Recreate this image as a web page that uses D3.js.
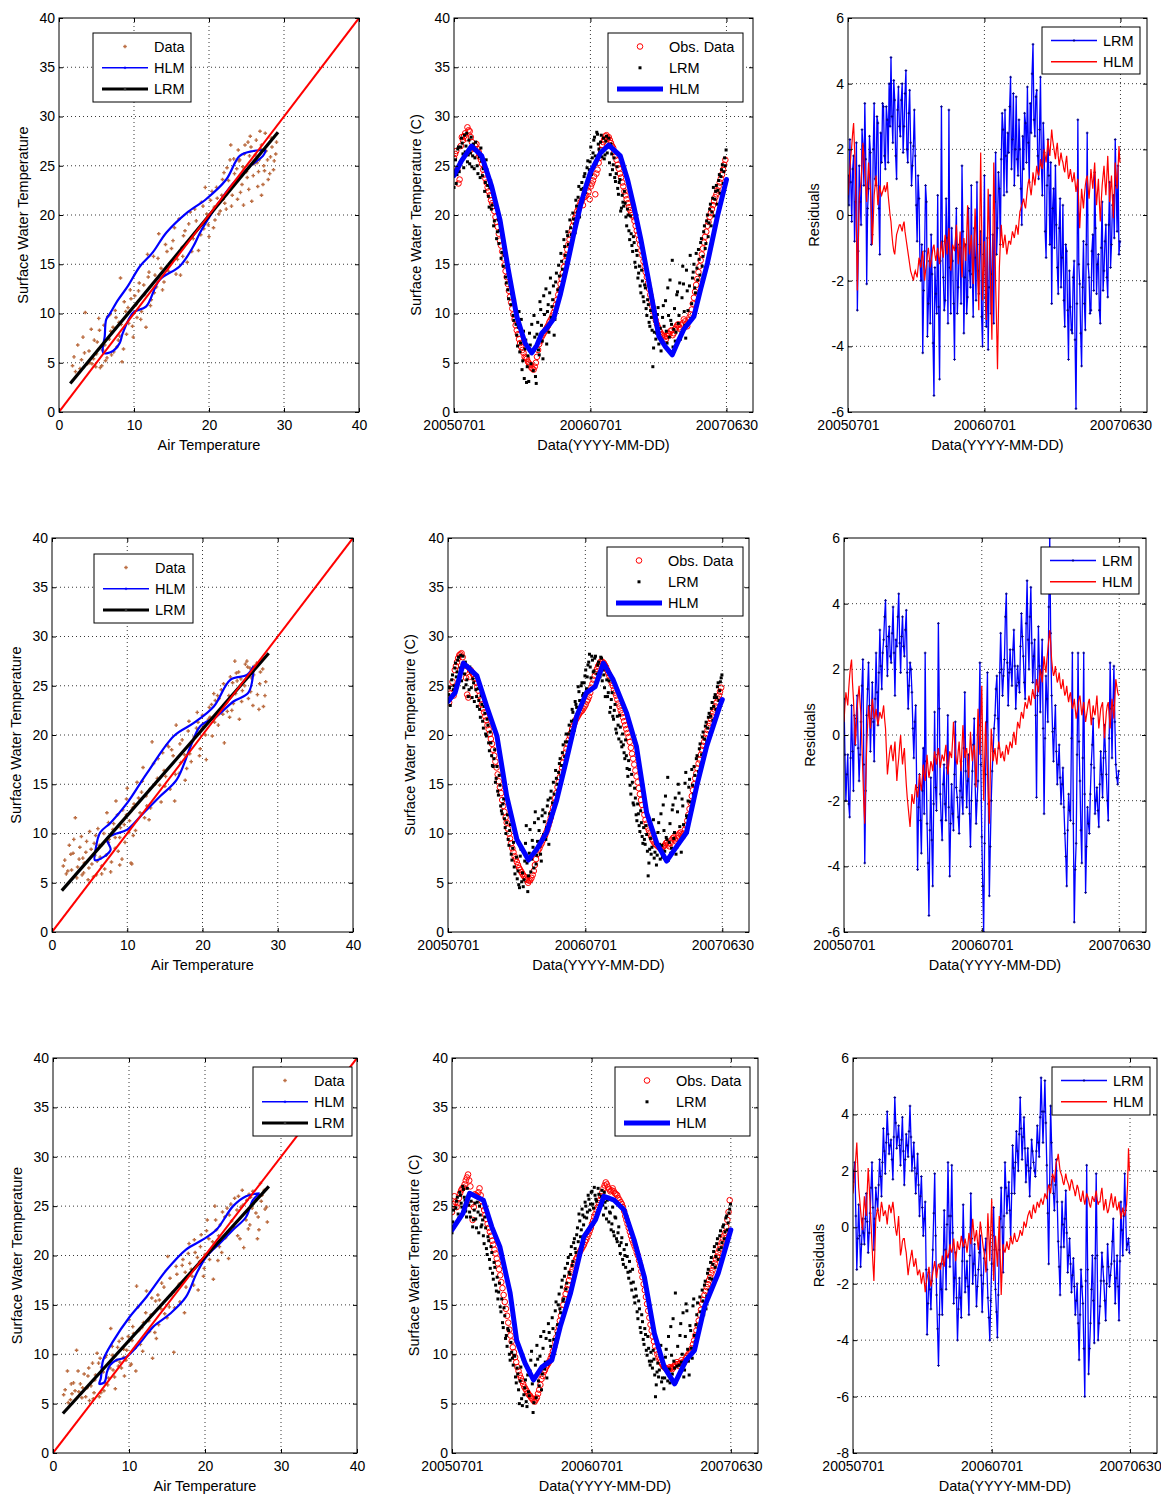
<!DOCTYPE html>
<html>
<head>
<meta charset="utf-8">
<script src="https://cdn.jsdelivr.net/npm/d3@7"></script>
<style>
  html, body { margin: 0; padding: 0; background: #fff; }
  svg text { font-family: "Liberation Sans", Arial, Helvetica, sans-serif; fill: #000; }
</style>
</head>
<body>
<svg id="chart" width="1161" height="1497"></svg>
<script>
// ---------------------------------------------------------------------------
// Data: three monitoring sites, records from 2005-07-01 to 2007-06-30.
// Time-series values are stored at a fixed sampling step (days since start);
// each "...Mid" array holds the samples taken half a step later.
// ---------------------------------------------------------------------------
const obsStepDays = 6;     // observed surface water temperature
const lrmStepDays = 4;     // linear regression model prediction
const residStepDays = 5;   // model residuals

const dateTickDays = [0, 365, 729];
const dateTickLabels = ["20050701", "20060701", "20070630"];
const tempTicks = [0, 5, 10, 15, 20, 25, 30, 35, 40];
const airTicks = [0, 10, 20, 30, 40];
const residTicksA = [-6, -4, -2, 0, 2, 4, 6];
const residTicksB = [-8, -6, -4, -2, 0, 2, 4, 6];
const identityLine = [[0, 0], [40, 40]];

// ---- Site 1 ---------------------------------------------------------------
// [air temperature, surface water temperature]
const site1Scatter = [[1.8,4.7],[2.2,4.1],[2.5,6.8],[3.0,5.3],[3.2,7.6],[3.5,10.1],[3.8,4.9],[4.0,6.2],[4.3,8.4],[4.6,5.4],[4.9,4.6],[5.1,7.1],[5.3,9.5],[5.5,4.5],[5.8,6.3],[6.0,8.8],[6.2,5.2],[6.5,9.7],[6.7,7.4],[7.0,5.8],[7.2,8.6],[7.5,10.3],[7.7,6.6],[8.0,9.1],[8.2,13.6],[8.4,5.1],[8.7,11.2],[9.0,7.9],[9.2,10.6],[9.5,12.4],[9.8,8.7],[10.1,11.8],[10.4,9.6],[10.7,13.1],[11.0,10.2],[11.3,12.9],[11.6,8.6],[12.0,14.2],[12.3,11.4],[12.6,15.8],[13.0,12.7],[13.3,18.1],[13.6,14.6],[14.0,13.2],[14.4,16.3],[14.8,15.1],[15.2,17.4],[15.6,14.0],[16.0,19.6],[16.4,16.7],[16.8,18.4],[17.1,15.2],[17.5,20.3],[17.9,17.6],[18.3,19.4],[18.6,16.4],[19.0,21.3],[19.3,18.6],[19.7,20.1],[20.0,17.8],[20.4,22.4],[20.8,19.5],[21.1,21.7],[21.5,20.4],[21.8,23.6],[22.1,21.2],[22.4,24.8],[22.7,22.5],[23.0,20.9],[23.3,25.7],[23.6,23.4],[23.9,26.6],[24.2,22.3],[24.5,24.9],[24.8,27.1],[25.1,23.8],[25.4,26.0],[25.7,21.4],[26.0,25.2],[26.3,27.6],[26.6,24.4],[26.9,26.7],[27.2,23.1],[27.5,28.3],[27.8,25.6],[28.1,24.2],[28.4,26.9],[28.7,25.5],[29.0,27.4],[27.0,22.0],[28.2,25.9],[25.5,28.0],[22.9,27.1],[24.0,25.5],[26.8,28.5],[19.5,22.8],[16.2,13.9],[11.8,16.0],[6.8,9.9],[4.4,4.9],
  [2.0,5.6],[2.8,4.4],[3.4,6.0],[4.1,5.0],[4.7,7.3],[5.0,5.9],[5.4,8.3],[5.7,4.7],[6.1,6.8],[6.4,5.5],[6.9,8.2],[7.3,6.1],[7.6,9.6],[7.9,7.3],[8.3,8.9],[8.6,6.4],[8.9,10.2],[9.3,9.0],[9.6,11.5],[9.9,7.6],[10.3,10.9],[10.6,12.3],[10.9,9.4],[11.4,11.9],[11.9,13.7],[12.2,10.8],[12.8,13.9],[13.2,15.6],[13.8,12.4],[14.2,17.0],[14.6,14.3],[15.0,16.6],[15.4,18.7],[15.8,15.5],[16.6,17.9],[17.3,19.1],[17.7,16.3],[18.1,20.6],[18.9,18.0],[19.2,20.9],[19.9,19.0],[20.2,21.5],[20.6,18.7],[21.0,22.8],[21.3,20.1],[21.7,22.0],[22.0,24.3],[22.3,20.6],[22.6,23.5],[22.8,25.6],[23.1,22.0],[23.4,24.2],[23.8,21.6],[24.1,25.6],[24.4,23.1],[24.7,26.2],[25.0,24.4],[25.3,22.6],[25.6,26.9],[25.9,24.0],[26.2,26.1],[26.5,22.9],[26.7,25.6],[27.0,27.1],[27.3,25.0],[27.6,26.5],[27.9,23.6],[28.3,27.8],[28.6,24.6],[28.9,26.2],[27.4,24.5],[26.4,25.3],[25.2,27.4],[24.6,21.0],[23.7,24.7],[21.9,21.6],[20.7,20.8],[16.5,15.8],[12.7,12.1],[8.1,7.7]];
const site1HlmLoop = [[27.6,26.6],[25.9,26.5],[24.1,26.0],[22.3,23.6],[19.6,21.6],[17.0,20.2],[14.3,18.2],[12.5,16.2],[10.8,14.8],[9.2,12.8],[7.9,11.4],[6.8,10.0],[6.3,9.4],[6.1,7.7],[5.9,6.0],[7.2,6.2],[8.1,7.0],[8.5,8.0],[9.9,10.1],[11.6,10.7],[13.4,13.4],[16.1,14.8],[17.9,16.8],[18.8,18.2],[21.0,20.9],[23.2,23.2],[25.4,24.9],[27.2,26.0],[27.6,26.6]];
const site1LrmFit = [[1.5,2.9],[29.2,28.4]];
const site1ObsWater = [25.8,26.5,23.2,27.0,27.6,28.3,28.9,28.5,27.4,26.2, 27.2,26.4,25.6,24.6,23.7,22.8,22.0,21.2,20.4,19.3, 18.1,16.9,15.6,14.3,13.0,11.7,10.5,9.4,8.3,7.4, 6.6,6.0,5.5,5.1,4.8,4.4,4.6,5.6,6.9,7.6, 8.0,8.4,8.8,9.3,9.8,10.5,11.4,12.4,13.5,14.7, 15.9,17.0,18.0,18.9,19.7,20.4,21.0,21.5,21.8,22.0, 22.4,22.9,23.5,22.1,24.6,25.8,27.1,27.7,28.1,27.9, 27.3,26.8,26.0,25.1,24.2,23.3,22.4,21.6,20.8,20.2, 19.8,18.9,18.0,17.0,15.9,14.8,13.7,12.5,11.3,10.2, 9.3,8.6,8.1,7.8,7.6,7.7,7.9,8.3,8.0,8.6, 8.9,8.4,9.0,9.2,8.7,9.6,10.4,11.6,12.9,14.2, 15.4,16.6,17.8,18.9,19.8,20.6,21.4,22.1,22.9,23.7, 24.6,25.6];
const site1ObsWaterMid = [26.2,24.6,23.6,27.9,28.0,27.8,28.6,27.9,26.8,27.0, 26.7,25.9,25.2,24.1,23.3,22.4,21.5,20.9,19.8,18.8, 17.4,16.3,14.9,13.7,12.3,11.1,9.9,8.8,7.9,7.0, 6.3,5.6,5.4,4.9,4.5,4.3,5.0,6.3,7.2,7.8, 8.2,8.6,9.1,9.5,10.1,10.9,11.9,13.0,14.1,15.3, 16.5,17.5,18.4,19.3,20.0,20.7,21.3,21.0,21.9,22.8, 21.6,23.2,23.9,24.2,25.3,26.6,27.4,28.0,27.8,27.6, 27.0,26.4,25.6,24.7,23.8,22.9,22.0,21.2,20.5,20.0, 19.4,18.4,17.5,16.4,15.3,14.2,13.1,11.9,10.7,9.7, 8.9,8.3,7.9,7.7,7.4,8.0,8.2,7.8,8.4,8.8, 8.6,8.8,9.4,8.9,9.3,9.9,11.0,12.2,13.5,14.8, 16.0,17.2,18.3,19.3,20.2,21.0,21.8,22.5,23.3,24.1, 25.1];
const site1LrmWater = [22.8,25.6,24.1,26.9,25.3,27.8,26.2,28.1,27.0,25.4, 27.6,26.3,24.9,27.2,25.8,26.6,24.2,25.9,26.8,24.0, 25.1,23.3,24.6,21.9,22.8,20.6,22.1,19.4,20.8,18.3, 17.1,18.9,16.2,14.8,16.5,13.1,12.4,14.2,10.9,11.6, 9.3,10.7,7.8,8.6,6.1,9.4,5.2,3.4,7.3,4.6, 3.1,6.8,8.9,4.2,7.6,2.9,9.1,5.8,10.4,7.2, 11.8,8.3,6.9,10.9,12.1,9.6,11.4,7.8,13.2,11.0, 14.9,12.6,15.3,13.9,16.8,15.2,17.9,16.1,18.7,17.4, 19.6,18.2,20.9,21.8,19.8,22.6,21.4,23.9,22.3,24.8, 23.6,25.4,24.1,26.3,27.9,25.2,28.2,26.7,27.4,25.9, 27.8,26.1,28.0,26.9,25.3,27.2,24.6,25.8,23.4,24.9, 22.1,23.6,20.7,21.3,22.4,19.8,20.6,18.4,19.9,16.9, 17.8,15.2,16.4,13.6,14.8,12.1,13.3,11.2,12.6,9.8, 10.9,8.7,9.6,4.6,8.1,7.4,9.9,6.9,8.5,7.1, 10.8,6.8,8.2,12.6,7.6,9.3,15.4,8.4,7.2,11.9, 9.0,13.1,8.0,14.8,10.2,7.5,12.3,9.1,15.9,11.0, 14.2,12.6,16.1,13.4,15.5,17.2,14.8,18.3,16.6,19.4, 17.8,20.6,18.9,21.7,19.9,22.4,21.1,23.5,22.2,24.6, 23.2,25.8,26.6];
const site1LrmWaterMid = [24.3,23.2,26.7,24.4,26.9,27.3,24.8,26.4,28.3,26.1, 25.2,27.9,26.0,24.7,27.4,25.0,26.3,23.8,25.5,24.7, 22.4,25.6,23.0,20.8,23.5,21.0,18.9,21.6,17.6,19.5, 18.4,15.6,17.4,15.9,13.7,15.1,11.5,12.9,12.0,9.8, 11.4,8.9,6.7,10.2,7.0,4.3,8.2,6.4,3.0,5.7, 8.0,4.9,6.1,9.8,3.6,7.9,6.3,11.2,8.8,5.4, 9.9,12.5,10.2,8.1,13.6,10.7,12.8,9.4,14.1,12.4, 13.8,16.1,14.5,17.5,15.9,18.3,17.0,19.5,18.0,20.2, 19.1,21.5,20.3,22.9,21.0,23.3,22.7,24.2,23.0,25.5, 24.6,26.9,25.8,27.6,26.0,28.4,27.2,26.4,28.1,26.6, 25.7,27.5,26.3,27.8,24.1,26.2,25.1,23.8,24.2,22.7, 23.3,20.4,22.0,20.9,21.2,18.9,20.0,17.5,18.1,16.3, 17.2,14.7,15.9,14.1,12.8,14.4,11.7,12.9,10.5,11.4, 9.1,10.3,8.3,6.5,9.2,8.0,10.6,7.9,6.2,9.6, 8.7,11.3,7.0,9.8,13.4,8.9,6.6,10.5,8.1,12.2, 9.8,7.4,11.6,13.0,8.8,14.4,10.3,12.8,9.5,13.6, 15.0,12.1,14.6,16.5,13.9,17.6,15.8,18.9,17.1,20.0, 19.2,21.1,20.3,22.8,21.6,23.0,22.5,24.1,23.9,25.1, 24.4,25.0];
// [day, HLM prediction]
const site1HlmSeries = [[0,24.0],[20,25.5],[47,27.0],[74,26.0],[100,23.0],[123,19.5],[145,14.5],[168,9.7],[190,7.0],[208,6.0],[222,6.8],[235,8.0],[250,8.6],[267,9.5],[285,12.0],[302,14.8],[320,18.0],[338,20.9],[352,22.8],[365,24.3],[392,26.3],[414,27.1],[445,26.0],[465,23.5],[481,20.9],[500,17.5],[517,14.1],[533,10.8],[548,7.7],[566,6.6],[584,5.8],[600,7.2],[615,8.4],[642,9.7],[660,12.5],[678,15.1],[705,19.9],[729,23.6]];
const site1LrmResid = [1.2,2.3,-0.2,1.8,0.4,-2.9,1.5,-0.3,2.1,3.4, -2.1,0.8,1.9,-0.6,3.4,0.9,2.8,-1.2,1.6,3.3, 1.4,2.9,4.0,4.8,2.2,3.5,1.1,3.9,2.4,4.0, 2.7,4.4,1.6,3.8,0.9,2.1,1.8,-0.8,0.5,-2.0, -4.2,-1.1,0.4,-2.7,-3.3,-1.8,-5.5,-2.4,0.6,-5.0, 3.3,-1.9,-2.6,-0.7,3.2,-3.0,-1.4,-4.4,0.2,-2.2, -1.0,1.5,-3.6,-0.9,-2.5,-1.7,0.9,-3.1,-1.3,1.0, -2.4,-0.5,-4.0,1.2,-3.4,-4.1,0.6,-1.8,-3.3,1.9, -0.4,0.8,1.7,2.6,3.2,0.7,1.9,4.2,2.3,0.9, 3.6,1.2,2.0,-0.3,1.4,2.8,3.9,1.0,2.5,5.2, 2.4,3.8,1.1,4.2,0.6,1.9,-1.3,2.3,-0.9,-2.7, 0.8,1.5,-1.6,-0.4,-2.2,0.3,-3.4,-1.1,-4.4,-2.8, -3.6,-1.4,-5.9,2.9,-2.1,-4.6,-0.8,-3.5,2.5,-1.9, -2.9,-0.6,1.3,-2.4,-1.2,-3.3,0.4,-1.7,-0.3,-2.5, 1.0,-0.9,0.6,2.3,-0.5,-1.2];
const site1LrmResidMid = [0.3,1.0,1.4,-0.8,2.2,-1.1,0.4,2.6,0.9,1.7, 0.2,2.4,-0.9,2.0,1.1,3.0,0.2,2.5,3.4,1.8, 3.3,1.6,2.7,3.0,4.1,1.8,3.2,2.7,3.5,1.9, 3.7,2.0,3.1,2.2,1.5,3.2,0.3,1.2,-1.4,-0.9, -2.3,0.9,-3.7,-1.4,-0.6,-3.9,-1.6,-3.0,-2.8,-1.4, -0.8,-2.9,0.5,-3.3,-1.6,-0.4,-2.7,-1.0,-3.0,-0.9, -2.7,-0.5,-1.9,-3.0,0.2,-2.2,-1.8,-0.4,-2.6,-1.7, -0.9,-3.1,-1.2,-2.5,-0.7,-2.2,-3.0,-0.6,0.4,-1.2, 1.3,-0.9,3.1,0.6,1.8,2.5,3.3,1.4,3.7,2.0, 1.7,2.9,0.8,2.4,3.1,1.6,2.2,3.4,4.3,2.9, 3.6,1.8,2.6,1.5,2.8,-0.5,0.9,1.2,1.6,0.2, -1.0,-0.3,-2.4,0.5,-1.3,-2.6,-0.9,-2.9,-1.7,-3.5, -1.9,-3.8,-2.7,-1.5,-3.6,-2.2,-2.7,-0.9,-1.5,-3.0, -1.1,-2.3,-0.4,-1.5,-2.9,-1.0,-2.3,-0.8,-1.9,-0.3, -1.6,0.3,-0.7,0.9,1.5,-0.8];
const site1HlmResid = [0.6,1.4,2.1,2.8,1.2,-2.3,0.5,1.0,2.2,1.3, 0.4,1.6,0.8,-0.9,0.6,1.2,0.3,0.9,0.6,0.8, 0.7,1.0,0.3,-0.2,-0.9,-1.2,-0.6,-0.4,-0.3,-0.5, -0.2,-0.7,-1.1,-1.5,-1.8,-2.0,-1.7,-1.9,-1.3,-1.6, -1.1,-2.0,-1.5,-1.0,-1.6,-1.2,-0.9,-1.4,-1.0,-1.5, -0.8,-1.3,-0.6,-1.2,-0.4,-1.7,-0.9,-1.1,-0.3,-1.5, -0.5,-1.9,-0.7,-1.4,0.3,-1.2,-0.6,-2.1,0.2,-1.3, -2.9,1.9,-2.6,-0.8,-3.2,0.8,-1.5,-3.8,1.6,-2.1, -4.7,-1.6,-0.3,-1.0,-0.6,-1.2,-0.8,-0.9,-0.5,-0.7, -0.3,-0.6,0.1,0.3,0.5,0.2,0.8,1.1,0.6,1.3, 0.9,1.5,1.2,1.7,1.4,2.0,1.6,2.3,1.8,2.6, 2.1,1.7,2.2,1.5,1.9,1.6,1.3,1.8,1.1,1.4, 1.0,1.3,0.7,1.1,-0.4,0.8,0.2,0.9,1.2,0.5, 1.4,0.8,1.6,0.3,1.1,-0.2,0.9,1.5,0.6,1.8, 0.4,1.2,-0.1,1.6,0.8,2.1];
const site1HlmResidMid = [1.0,1.8,2.5,2.0,-0.5,-0.9,0.8,1.6,1.8,0.9, 1.0,1.2,0.1,-0.2,0.9,0.8,0.6,0.7,0.7,0.9, 0.8,0.6,0.0,-0.6,-1.1,-0.9,-0.5,-0.3,-0.4,-0.3, -0.5,-0.9,-1.3,-1.7,-1.9,-1.8,-1.8,-1.6,-1.5,-1.3, -1.6,-1.7,-1.2,-1.3,-1.4,-1.0,-1.2,-1.2,-1.3,-1.1, -1.1,-0.9,-0.9,-0.8,-1.1,-1.3,-1.0,-0.7,-0.9,-1.0, -1.2,-1.3,-1.0,-0.6,-0.5,-0.9,-1.4,-0.9,-0.6,-2.0, -0.4,-0.3,-1.7,-2.0,-1.2,-0.3,-2.6,-1.0,-0.2,-3.3, -3.0,-0.9,-0.7,-0.8,-0.9,-1.0,-0.8,-0.7,-0.6,-0.5, -0.4,-0.2,0.2,0.4,0.3,0.5,1.0,0.8,0.9,1.1, 1.2,1.3,1.4,1.5,1.7,1.8,1.9,2.0,2.2,2.3, 1.9,2.0,1.8,1.7,1.7,1.4,1.6,1.4,1.2,1.2, 1.1,1.0,0.9,0.3,0.2,0.5,0.6,1.1,0.8,0.9, 1.1,1.2,0.9,0.7,0.4,0.4,1.2,1.0,1.2,1.1, 0.8,0.5,0.7,1.2,1.4,1.6];

// ---- Site 2 ---------------------------------------------------------------
const site2Scatter = [[1.5,6.7],[1.9,5.9],[2.3,8.8],[2.6,6.3],[3.1,11.6],[3.3,5.5],[3.6,7.4],[3.9,9.7],[4.2,6.0],[4.5,8.1],[4.8,5.3],[5.0,10.2],[5.3,6.9],[5.6,9.0],[5.9,5.8],[6.1,10.5],[6.4,7.6],[6.7,8.9],[7.0,6.4],[7.3,12.1],[7.6,9.4],[7.9,7.1],[8.2,11.0],[8.5,13.3],[8.8,8.2],[9.1,10.6],[9.4,12.4],[9.7,9.1],[10.0,14.6],[10.3,11.3],[10.6,6.9],[10.9,13.0],[11.3,15.2],[11.7,12.1],[12.1,16.7],[12.5,13.8],[12.9,11.4],[13.3,19.3],[13.7,15.0],[14.1,17.6],[14.5,13.2],[14.9,16.4],[15.3,19.0],[15.7,14.5],[16.1,17.9],[16.5,21.0],[16.9,16.1],[17.3,19.5],[17.7,15.4],[18.1,20.4],[18.5,17.3],[18.9,19.8],[19.3,22.3],[19.7,18.6],[20.1,21.1],[20.5,17.5],[20.9,22.8],[21.3,19.9],[21.7,23.5],[22.1,21.0],[22.5,24.6],[22.9,19.2],[23.3,22.4],[23.7,25.9],[24.1,23.2],[24.5,26.3],[24.9,21.6],[25.3,24.5],[25.7,27.2],[26.1,23.7],[26.5,25.8],[26.9,27.0],[27.3,24.1],[27.7,26.4],[28.1,22.9],[28.4,25.4],[27.9,27.6],[26.3,26.8],[25.1,25.7],[24.3,27.5],[23.5,24.0],[22.7,22.1],[21.5,24.2],[19.9,20.6],[18.3,18.1],[17.1,17.2],[16.3,13.3],[15.5,18.8],[14.3,14.9],[13.1,12.6],[11.9,14.2],[10.8,9.8],[9.9,11.9],[9.0,6.8],[8.4,9.6],[7.5,11.1],[6.6,5.9],[5.7,7.8],[4.1,7.5],[2.8,8.0],
  [1.7,7.3],[2.1,6.2],[2.5,7.9],[2.9,9.4],[3.4,6.6],[3.7,8.6],[4.0,5.8],[4.3,7.0],[4.6,9.2],[4.9,6.5],[5.2,8.4],[5.5,5.6],[5.8,9.8],[6.0,7.2],[6.3,8.8],[6.6,6.7],[6.9,10.0],[7.2,7.8],[7.5,9.1],[7.8,6.1],[8.1,10.4],[8.4,8.5],[8.7,11.9],[9.0,9.6],[9.3,7.4],[9.6,10.9],[9.9,13.5],[10.2,10.1],[10.7,12.6],[11.1,10.3],[11.5,13.6],[12.0,15.3],[12.6,12.8],[13.0,14.5],[13.5,17.1],[14.0,15.6],[14.7,18.2],[15.1,15.8],[15.9,18.5],[16.4,16.0],[17.0,19.1],[17.6,18.0],[18.2,21.4],[18.7,19.4],[19.2,20.7],[19.6,17.9],[20.0,22.0],[20.4,20.0],[20.8,21.6],[21.2,23.1],[21.6,21.3],[22.0,24.0],[22.4,22.6],[22.8,25.2],[23.2,23.3],[23.6,21.8],[24.0,25.3],[24.4,24.2],[24.8,26.4],[25.2,23.4],[25.6,25.0],[26.0,26.9],[26.4,24.4],[26.8,26.1],[27.2,27.3],[27.6,25.2],[28.0,26.7],[28.3,24.0],[27.5,22.6],[26.7,23.0],[25.9,27.5],[24.6,25.5],[23.9,22.5],[22.2,23.7],[21.0,21.8],[19.4,21.3],[17.9,16.6],[15.0,14.8],[12.3,11.6],[10.5,7.0]];
const site2HlmLoop = [[26.8,27.0],[25.9,26.1],[23.7,25.6],[21.5,22.9],[18.8,21.2],[16.2,19.9],[12.6,16.1],[10.0,13.1],[7.8,11.1],[6.4,10.1],[5.8,8.4],[5.7,7.3],[6.6,7.5],[7.6,8.1],[7.8,8.4],[7.3,9.5],[8.2,9.9],[10.0,10.4],[12.2,12.1],[14.4,13.8],[16.6,15.5],[18.4,18.8],[19.7,20.9],[21.9,21.9],[24.1,23.4],[26.1,24.3],[26.8,27.0]];
const site2LrmFit = [[1.3,4.2],[28.8,28.3]];
const site2ObsWater = [23.6,24.2,25.4,26.6,27.4,28.1,28.3,27.2,25.8,23.8, 26.6,26.2,25.7,24.9,24.0,23.1,22.3,21.5,20.6,19.6, 18.5,17.3,16.0,14.7,13.4,12.2,11.1,10.0,9.0,8.1, 7.4,6.8,6.3,5.9,5.6,5.3,5.2,5.5,6.2,7.4, 8.3,8.8,9.3,9.8,10.4,11.2,12.1,13.1,14.1,15.2, 16.2,17.2,18.2,19.1,19.9,20.6,21.2,21.7,22.1,22.4, 22.7,23.1,23.6,24.3,25.2,26.0,26.7,27.2,27.5,27.3, 26.9,26.3,25.6,25.0,24.3,23.6,22.9,22.2,21.4,20.6, 19.8,18.7,17.6,16.4,15.2,14.0,12.9,11.9,11.0,10.3, 9.7,9.2,8.9,8.7,8.5,8.6,8.8,9.1,8.7,9.3, 9.6,9.2,9.8,10.1,9.7,10.4,11.3,12.5,13.8,15.0, 16.1,17.1,18.0,18.9,19.7,20.5,21.2,21.9,22.6,23.3, 24.0,24.8];
const site2ObsWaterMid = [23.3,24.8,24.0,27.0,27.8,28.2,27.9,26.5,24.1,25.9, 26.4,26.0,25.3,24.5,23.6,22.7,21.9,21.0,20.1,19.1, 17.9,16.7,15.3,14.1,12.8,11.6,10.5,9.5,8.5,7.7, 7.1,6.5,6.1,5.7,5.4,5.0,5.3,5.8,6.8,7.9, 8.5,9.0,9.6,10.1,10.8,11.6,12.6,13.6,14.7,15.7, 16.7,17.7,18.6,19.5,20.2,20.9,21.5,21.9,22.3,22.5, 22.9,23.4,23.9,24.8,25.6,26.4,27.0,27.4,27.4,27.1, 26.6,26.0,25.3,24.6,24.0,23.2,22.5,21.8,21.0,20.2, 19.3,18.1,17.0,15.8,14.6,13.4,12.4,11.4,10.6,10.0, 9.4,9.0,8.8,8.6,8.5,8.7,9.0,8.9,9.0,9.5, 9.4,9.5,10.0,9.9,10.0,10.8,11.9,13.1,14.4,15.6, 16.6,17.5,18.5,19.3,20.1,20.9,21.6,22.3,22.9,23.7, 24.4];
const site2LrmWater = [23.4,24.8,23.9,26.1,25.0,27.3,26.4,27.9,26.8,25.5, 28.0,26.2,25.1,27.0,24.6,26.4,23.8,25.3,26.1,23.9, 24.7,22.6,24.0,21.4,22.9,20.1,21.6,19.2,20.3,17.9, 16.8,18.5,15.6,14.3,15.9,12.8,12.0,13.5,10.6,11.1, 9.4,10.3,7.9,8.5,6.6,9.8,5.4,4.8,7.7,5.1, 4.6,7.2,10.8,4.1,8.0,6.1,9.3,6.5,12.2,7.8, 11.5,8.7,7.2,12.4,11.2,9.4,12.8,8.9,13.6,11.7, 15.2,12.9,15.6,14.4,17.1,15.8,18.2,16.7,19.3,18.0, 20.1,19.0,21.4,22.3,20.5,23.1,22.0,24.4,22.9,25.3, 24.2,26.0,24.7,27.1,28.2,25.8,27.6,26.5,28.0,26.2, 27.4,25.9,27.8,26.6,24.8,26.9,23.9,25.5,22.8,24.3, 21.6,23.1,20.2,21.0,22.0,19.3,20.1,18.2,19.5,16.6, 17.4,14.9,16.0,13.1,14.6,11.9,13.0,10.8,12.3,9.7, 10.6,8.9,9.9,5.7,8.4,7.9,10.2,7.5,9.0,7.8, 11.1,7.4,8.8,12.9,8.2,9.6,15.7,9.1,8.0,12.4, 9.5,13.6,8.6,15.0,10.7,8.1,12.8,9.8,16.2,11.6, 14.7,13.2,16.5,14.0,15.9,17.6,15.3,18.6,17.0,19.8, 18.1,20.9,19.3,21.8,20.2,22.7,21.5,23.8,22.6,24.9, 23.5,25.4,26.1];
const site2LrmWaterMid = [24.1,23.0,25.6,24.6,26.8,25.9,27.6,26.0,28.1,27.1, 24.8,27.4,25.6,23.9,26.9,24.8,25.7,23.4,24.6,22.9, 23.5,21.8,23.1,20.7,22.2,19.9,21.0,18.4,19.2,16.9, 17.6,15.2,16.8,13.9,14.9,12.3,13.0,11.5,10.0,11.9, 8.8,10.9,7.3,9.1,5.9,7.6,6.2,4.5,8.4,6.0, 5.3,9.0,7.0,5.7,10.4,7.4,8.6,11.1,6.9,9.2, 10.3,7.9,11.8,9.9,12.1,10.6,13.4,12.0,14.3,13.1, 14.0,16.4,15.0,16.2,17.6,16.9,19.0,17.8,20.1,19.3, 21.0,20.4,22.6,21.5,23.4,22.8,24.9,23.5,25.0,24.0, 25.3,26.6,25.9,27.4,26.9,28.0,26.4,27.8,25.4,27.1, 26.3,27.9,25.5,26.1,23.9,25.6,24.3,22.3,23.6,21.9, 22.5,20.6,21.9,19.6,20.8,18.8,19.0,17.6,17.9,15.8, 16.5,14.0,15.2,12.9,13.6,11.3,12.0,10.2,11.1,9.0, 9.4,10.8,8.2,7.0,9.5,8.6,11.4,8.1,6.8,10.1, 8.9,12.0,7.6,10.3,13.8,9.4,7.3,11.0,8.5,12.9, 10.1,7.9,12.2,14.1,9.2,13.5,10.9,15.1,11.8,13.3, 15.5,12.5,14.9,16.8,14.6,17.9,16.3,19.1,18.0,20.3, 19.6,21.3,20.7,22.2,21.9,23.3,22.9,24.1,23.8,25.3, 24.5,25.8];
const site2HlmSeries = [[0,23.4],[19,24.3],[41,27.3],[77,26.0],[103,22.9],[130,19.9],[156,13.8],[183,9.4],[214,7.3],[236,8.4],[262,10.1],[289,13.4],[315,17.5],[342,21.9],[368,24.3],[391,24.9],[413,27.3],[439,25.6],[475,22.2],[501,18.8],[528,12.1],[555,9.0],[581,7.2],[608,8.7],[634,10.1],[661,14.8],[687,18.8],[722,22.9],[729,23.6]];
const site2LrmResid = [1.1,-2.0,-0.6,-2.5,0.9,-1.7,-0.3,1.2,-1.4,0.4, 2.3,-3.9,0.6,2.2,-0.5,1.6,-0.8,2.5,0.3,3.2, 1.4,2.9,4.1,1.8,3.3,2.2,3.9,1.2,2.7,4.3, 1.9,3.6,2.4,3.8,0.8,2.2,1.3,-0.7,0.9,-4.1, -1.2,-3.6,-0.4,2.5,-2.7,-5.5,-1.3,-4.6,0.7,-2.3, 3.4,-1.8,-3.2,-0.9,-2.6,0.6,-4.3,-1.5,-2.9,0.4, -1.9,-3.0,-0.8,-2.4,1.3,-2.2,-0.6,-3.4,-1.1,0.5, -2.7,-1.4,2.2,-3.1,-6.0,-1.2,1.9,-4.9,-2.0,-0.5, 0.6,1.8,-0.4,3.1,1.2,2.3,4.3,0.9,2.6,1.5, 3.2,0.8,2.1,1.3,3.7,2.4,1.1,4.7,2.0,4.5, 1.6,2.9,-1.9,3.3,0.7,2.9,-2.4,1.8,0.4,6.0, 1.2,-0.8,0.9,-1.5,-0.3,-2.1,-1.0,-3.0,-4.6,-1.8, -2.6,2.5,-5.7,-3.3,2.5,-1.4,-3.9,2.5,-4.8,-2.2, -3.0,-0.9,0.5,-2.4,-1.6,-2.8,-0.5,-1.9,0.3,-1.2, -2.6,2.2,-0.7,2.1,-0.9,-1.5];
const site2LrmResidMid = [-0.6,-1.2,-2.1,-0.7,-0.5,0.6,0.5,-0.4,-0.6,1.5, -0.9,-1.7,1.4,0.9,0.5,0.4,1.1,1.3,1.9,2.1, 2.5,3.6,2.7,3.0,2.4,3.1,2.5,2.9,3.6,2.8, 3.0,2.7,3.2,1.9,1.5,2.0,0.2,0.4,-1.6,-2.2, -2.6,-1.7,-2.4,-0.8,-3.9,-2.9,-3.2,-2.1,-1.6,-0.6, 0.8,-2.6,-1.5,-2.1,-1.0,-2.2,-2.7,-2.4,-1.2,-1.6, -2.5,-1.7,-1.9,-0.4,-1.1,-1.4,-2.4,-2.0,-0.3,-1.5, -2.0,0.3,-0.9,-4.6,-3.3,0.4,-2.1,-3.4,-1.1,0.2, 1.4,0.5,1.9,2.0,1.8,3.6,2.2,1.9,2.0,2.6, 2.1,1.5,1.6,2.7,3.0,1.6,3.4,2.9,3.6,2.8, 2.4,0.6,1.2,2.1,1.9,0.2,-0.1,1.1,3.9,3.1, 0.1,0.2,-0.5,-0.9,-1.3,-1.5,-2.2,-3.7,-2.9,-2.3, -0.1,-2.7,-4.1,-0.6,-0.2,-2.9,-0.7,-1.8,-3.4,-2.7, -1.8,-0.3,-1.0,-2.0,-2.3,-1.5,-1.2,-0.7,-0.5,-2.0, -0.1,0.8,0.9,0.4,-1.3,-1.1];
const site2HlmResid = [0.4,1.3,0.9,1.8,2.3,1.1,-0.3,0.8,1.5,0.6, -1.2,-2.7,-0.4,0.9,0.2,1.1,0.5,0.8,0.3,0.7, 0.5,0.9,0.2,-1.2,-0.6,-0.3,-0.8,-0.2,-1.4,-0.7, 0.0,-0.9,-0.4,-1.5,-2.2,-2.8,-1.8,-2.1,-1.5,-1.9, -1.2,-1.7,-0.9,-1.4,-0.6,-1.3,-0.8,-1.1,-0.5,-0.9, -0.4,-1.0,-0.6,-0.8,-0.3,-1.2,-0.5,-0.7,0.4,-0.6, -0.9,-0.2,-1.1,0.3,-0.7,-0.4,-1.3,0.1,-0.8,-0.3, -1.6,0.8,-0.6,1.5,-2.0,0.4,-1.1,-2.7,0.2,-0.8, -0.4,-0.9,-0.2,-0.7,-0.5,-0.8,-0.3,-0.6,-0.2,-0.4, 0.1,-0.3,0.4,0.2,0.7,0.5,1.0,0.8,1.2,0.9, 1.4,1.1,1.7,1.3,2.0,1.6,2.4,1.9,2.6,3.2, 2.3,1.8,2.1,1.6,1.9,1.4,1.7,1.2,1.5,1.0, 1.3,0.8,1.1,0.5,0.9,1.2,0.6,1.0,0.4,0.8, 1.1,0.3,0.9,0.6,1.2,0.2,0.8,1.0,-0.1,0.7, 1.0,0.2,1.1,0.5,1.7,1.3];
const site2HlmResidMid = [0.9,1.1,1.4,2.1,1.6,0.4,0.3,1.2,1.0,-0.3, -2.1,-1.5,0.3,0.5,0.7,0.8,0.6,0.5,0.5,0.6, 0.7,0.5,-0.5,-0.9,-0.4,-0.6,-0.5,-0.8,-1.0,-0.3, -0.5,-0.6,-1.0,-1.9,-2.5,-2.3,-2.0,-1.8,-1.7,-1.6, -1.5,-1.3,-1.2,-1.0,-1.0,-1.1,-0.9,-0.8,-0.7,-0.6, -0.7,-0.8,-0.7,-0.5,-0.8,-0.9,-0.6,-0.2,-0.1,-0.8, -0.5,-0.7,-0.4,-0.2,-0.5,-0.9,-0.6,-0.4,-0.5,-0.9, -0.4,0.1,0.5,-0.3,-0.8,-0.4,-1.9,-1.2,-0.3,-0.6, -0.7,-0.5,-0.4,-0.6,-0.7,-0.5,-0.4,-0.4,-0.3,-0.1, -0.1,0.1,0.3,0.5,0.6,0.8,0.9,1.0,1.0,1.2, 1.2,1.4,1.5,1.7,1.8,2.0,2.1,2.3,2.9,2.8, 2.0,1.9,1.8,1.7,1.6,1.5,1.4,1.3,1.2,1.2, 1.0,0.9,0.8,0.7,1.1,0.9,0.8,0.7,0.6,1.0, 0.7,0.6,0.7,0.9,0.7,0.5,0.9,0.4,0.3,0.9, 0.6,0.7,0.8,1.1,1.5,1.2];

// ---- Site 3 ---------------------------------------------------------------
const site3Scatter = [[1.4,5.9],[1.9,8.3],[2.3,5.4],[2.7,7.1],[3.1,10.4],[3.4,6.2],[3.8,5.6],[4.1,8.0],[4.5,6.6],[4.8,5.3],[5.2,9.1],[5.5,7.4],[5.8,10.1],[6.1,5.7],[6.4,8.7],[6.7,6.3],[7.0,9.9],[7.3,7.6],[7.6,12.6],[7.9,8.4],[8.2,6.5],[8.5,10.7],[8.8,9.2],[9.1,11.6],[9.4,7.8],[9.7,10.4],[10.0,13.5],[10.3,9.0],[10.6,12.1],[10.9,8.3],[11.2,14.8],[11.5,11.0],[11.9,13.2],[12.3,16.4],[12.7,12.3],[13.1,9.6],[13.5,15.4],[13.9,13.0],[14.3,17.2],[14.7,14.1],[15.1,19.9],[15.5,16.0],[15.9,10.2],[16.3,18.1],[16.7,15.3],[17.1,19.6],[17.5,16.8],[17.9,21.2],[18.3,17.9],[18.7,20.3],[19.1,16.5],[19.5,22.1],[19.9,18.7],[20.3,23.6],[20.7,20.4],[21.1,17.6],[21.5,22.6],[21.9,20.9],[22.3,24.4],[22.7,21.8],[23.1,19.7],[23.5,23.5],[23.9,25.8],[24.3,22.0],[24.7,24.9],[25.1,20.8],[25.5,25.6],[25.9,23.1],[26.3,26.5],[26.7,24.3],[27.1,22.6],[27.5,26.1],[27.9,24.7],[28.2,23.4],[27.3,27.3],[26.0,25.9],[24.9,26.6],[23.2,24.1],[22.0,23.1],[20.5,21.7],[19.3,19.4],[18.0,19.2],[16.5,16.9],[15.3,14.8],[14.0,15.5],[12.9,14.0],[11.7,12.7],[10.4,11.4],[9.3,9.7],[8.6,8.8],[7.8,10.8],[6.9,7.1],[6.2,9.6],[5.4,6.1],[4.6,7.8],[3.6,7.0],[2.5,6.0],[11.0,16.9],[17.3,14.2],[21.3,25.0],
  [1.6,6.4],[2.0,5.1],[2.4,7.0],[2.9,6.3],[3.3,8.3],[3.9,6.6],[4.3,5.7],[4.7,8.6],[5.0,6.8],[5.3,5.5],[5.6,7.9],[6.0,9.1],[6.3,6.1],[6.6,8.2],[6.9,9.7],[7.2,6.9],[7.5,8.6],[7.8,9.9],[8.1,7.7],[8.4,9.4],[8.7,11.3],[9.0,8.6],[9.3,10.5],[9.6,9.4],[9.9,11.8],[10.2,8.9],[10.5,12.8],[10.8,10.6],[11.3,12.4],[11.8,10.3],[12.2,14.2],[12.6,13.4],[13.0,15.7],[13.4,12.2],[13.8,16.0],[14.2,14.6],[14.6,16.8],[15.0,13.7],[15.4,17.7],[15.8,16.3],[16.2,18.9],[16.6,17.1],[17.0,19.0],[17.4,18.3],[17.8,20.2],[18.2,18.6],[18.6,21.6],[19.0,19.8],[19.4,20.9],[19.8,17.9],[20.2,22.5],[20.6,19.6],[21.0,21.4],[21.4,23.6],[21.8,22.0],[22.2,20.3],[22.6,23.9],[23.0,22.4],[23.4,25.2],[23.8,22.9],[24.2,24.6],[24.6,21.7],[25.0,25.1],[25.4,23.6],[25.8,26.2],[26.2,24.8],[26.6,25.6],[27.0,23.9],[27.4,25.5],[27.8,26.6],[28.1,24.9],[26.9,21.7],[25.7,22.7],[24.4,26.0],[22.9,24.8],[21.7,19.5],[20.0,20.1],[18.5,17.0],[16.0,14.7],[13.6,11.6]];
const site3HlmLoop = [[27.2,26.3],[25.4,26.0],[23.7,25.0],[21.5,22.6],[19.7,21.6],[17.5,20.6],[14.9,18.5],[12.3,15.8],[10.1,13.8],[7.9,11.3],[6.6,9.4],[6.3,7.6],[6.1,7.0],[6.8,7.2],[7.1,8.2],[7.5,8.9],[8.3,9.4],[9.6,9.7],[11.4,11.1],[13.2,12.8],[15.4,14.1],[17.5,15.8],[18.9,18.2],[20.2,19.9],[21.9,21.2],[23.7,22.6],[25.4,23.9],[26.3,25.6],[27.2,26.3]];
const site3LrmFit = [[1.3,4.0],[28.4,27.0]];
const site3ObsWater = [24.4,26.0,24.9,25.8,26.6,26.9,27.6,28.2,27.0,23.6, 26.2,26.0,26.8,25.5,24.6,23.7,22.8,22.0,21.1,20.2, 19.2,18.0,16.7,15.3,13.9,12.5,11.3,10.2,9.2,8.3, 7.6,7.0,6.5,6.1,5.8,5.5,5.2,5.6,6.4,7.5, 8.2,8.7,9.1,9.6,10.3,11.2,12.3,13.4,14.5,15.6, 16.6,17.5,18.3,19.0,19.6,20.1,20.5,20.9,21.4,21.9, 22.5,23.2,23.9,24.6,25.3,26.0,26.8,27.4,26.9,26.5, 26.8,26.3,26.1,25.6,25.2,24.5,23.6,22.8,22.0,21.3, 20.7,20.0,19.0,17.8,16.5,15.1,13.7,12.4,11.3,10.4, 9.7,9.2,8.8,8.6,8.4,8.7,8.5,8.9,9.2,8.8, 9.4,9.1,9.6,10.0,10.3,11.0,11.9,12.9,14.0,15.1, 16.0,16.8,17.5,18.2,18.9,19.6,20.3,21.0,21.7,22.3, 23.6,25.6];
const site3ObsWaterMid = [25.2,25.4,25.3,26.3,26.8,27.2,27.9,27.6,25.2,24.9, 26.1,26.4,26.1,25.0,24.1,23.2,22.4,21.5,20.6,19.7, 18.6,17.3,16.0,14.6,13.2,11.9,10.7,9.7,8.7,7.9, 7.3,6.7,6.3,5.9,5.6,5.3,5.4,6.0,6.9,7.8, 8.4,8.9,9.3,9.9,10.7,11.7,12.8,13.9,15.0,16.1, 17.0,17.9,18.6,19.3,19.8,20.3,20.7,21.1,21.6,22.2, 22.8,23.5,24.2,24.9,25.6,26.4,27.1,27.2,26.7,26.6, 26.5,26.2,25.8,25.4,24.9,24.0,23.2,22.4,21.6,21.0, 20.3,19.5,18.4,17.1,15.8,14.4,13.0,11.8,10.8,10.0, 9.4,9.0,8.7,8.5,8.5,8.6,8.7,9.0,9.0,9.1, 9.2,9.3,9.8,10.1,10.6,11.4,12.4,13.4,14.5,15.5, 16.4,17.1,17.8,18.5,19.2,19.9,20.6,21.3,22.0,22.9, 24.4];
const site3LrmWater = [22.3,24.6,23.1,25.5,24.2,26.4,25.3,27.0,25.9,24.5, 26.8,25.1,23.9,26.2,23.6,25.3,22.8,24.4,25.0,22.9, 23.6,21.2,22.8,20.1,21.5,18.7,20.3,17.6,18.8,16.4, 15.6,17.2,14.3,13.2,14.7,11.6,10.8,12.4,9.4,10.2, 8.9,9.8,7.1,8.0,5.0,8.7,4.8,5.9,7.4,4.7, 6.2,8.3,10.3,4.1,7.6,5.6,9.5,6.8,11.8,8.0, 12.3,9.2,7.6,13.1,11.4,9.8,12.6,10.1,15.3,13.0, 16.1,14.2,17.5,15.6,18.7,17.2,19.8,18.1,20.9,19.4, 21.7,20.3,22.8,24.2,21.9,24.7,23.1,25.4,23.8,26.1, 24.6,26.4,25.2,26.9,25.7,24.3,26.2,25.0,26.6,24.1, 25.4,23.7,25.9,24.4,22.6,24.9,22.0,23.8,21.4,22.9, 20.2,21.8,19.1,20.0,21.1,18.3,19.4,17.2,18.6,15.8, 16.6,14.3,15.4,12.7,14.0,11.5,12.6,10.4,11.8,9.3, 10.2,8.6,9.5,5.7,8.2,7.7,9.9,7.2,8.7,7.6, 10.5,7.3,8.5,12.8,8.0,9.3,16.2,8.8,7.8,11.9, 9.2,14.2,8.4,15.1,10.5,7.9,12.4,9.6,15.6,11.3, 14.0,12.7,15.8,13.5,15.4,17.0,14.6,18.2,16.5,19.3, 17.6,20.4,18.8,21.2,19.6,22.0,20.8,22.9,21.7,23.8, 22.6,24.3,25.2];
const site3LrmWaterMid = [23.4,22.9,24.8,25.9,23.8,26.1,24.9,26.7,25.6,23.9, 26.0,24.4,25.5,22.9,24.6,23.7,25.4,22.3,24.1,23.1, 22.0,23.9,20.7,21.9,19.6,20.9,18.2,19.3,17.0,17.8, 16.3,14.8,15.6,12.7,13.9,11.9,12.6,10.0,11.2,9.6, 9.9,7.7,8.6,6.4,7.3,5.5,9.5,6.6,5.2,7.9, 5.8,9.4,7.0,5.1,8.9,10.9,7.3,9.8,6.4,10.6, 8.5,11.6,9.0,12.2,10.8,13.7,11.5,14.4,12.1,15.0, 14.6,16.8,15.4,17.9,16.6,19.2,18.3,20.1,19.0,21.3, 20.7,22.1,21.4,23.5,22.6,24.1,23.9,25.0,24.4,25.7, 25.2,26.5,24.8,26.1,25.5,26.8,24.9,26.0,25.1,26.4, 24.8,25.6,23.4,24.3,23.2,22.4,23.9,21.7,22.3,21.0, 21.3,19.6,20.6,18.8,19.9,17.7,18.4,16.5,17.3,15.2, 15.9,13.6,14.6,12.2,13.3,11.0,12.0,9.9,10.6,8.9, 9.3,10.4,7.9,6.9,9.1,8.4,10.9,7.6,6.5,9.7, 8.3,11.8,7.1,9.9,13.6,8.6,7.2,10.8,8.9,13.1, 10.0,7.7,11.8,14.4,9.3,12.9,10.6,14.9,11.9,13.0, 15.2,12.9,14.3,16.5,14.0,17.4,15.9,18.6,17.7,19.8, 19.1,20.9,19.9,21.7,20.6,22.5,21.3,23.1,22.4,24.0, 23.3,24.7];
const site3HlmSeries = [[0,22.6],[29,24.3],[46,26.3],[82,25.6],[104,22.9],[125,20.9],[152,16.2],[169,11.4],[191,9.1],[213,7.4],[235,8.7],[261,9.4],[283,12.8],[310,16.2],[345,21.9],[375,23.6],[397,26.0],[424,25.6],[450,24.6],[476,21.6],[503,17.8],[529,12.1],[555,8.7],[582,7.0],[612,9.4],[634,10.4],[660,14.8],[696,18.2],[726,22.2],[729,22.6]];
const site3LrmResid = [1.6,2.3,-1.5,0.8,-1.4,0.3,-0.6,1.2,-0.9,0.5, 2.3,-0.8,1.4,0.6,2.4,1.1,3.5,1.9,4.1,2.6, 3.1,1.7,4.6,2.8,3.6,2.2,3.9,1.5,3.3,2.5, 4.3,2.0,3.0,1.2,2.6,0.4,1.8,-0.3,0.9,-3.8, -1.6,-2.9,-0.8,1.9,-2.4,-4.9,-1.3,-3.1,0.6,-2.2, 2.3,-1.4,2.2,-2.7,-0.9,-4.0,-1.8,-3.2,0.8,-2.3, -1.2,-3.1,1.2,-2.0,-0.6,-2.8,-1.5,-0.3,-3.0,-1.1, -0.4,-2.5,-4.0,-1.3,0.7,-2.2,-3.9,-0.8,1.4,-1.6, 2.3,0.5,1.6,-0.4,2.9,1.2,3.4,2.0,4.6,2.4, 3.9,1.6,2.8,1.1,3.1,2.3,1.8,3.6,2.5,5.3, 3.0,5.2,2.2,-1.3,4.3,1.8,0.6,2.4,-0.5,-2.4, 0.9,-0.7,1.3,-1.6,-0.4,-2.3,-1.1,-3.1,-2.0,-4.7, -1.5,-2.7,-6.0,2.2,-5.2,-3.4,-1.0,-4.1,1.9,-4.0, -2.8,-0.9,-1.9,-3.3,-0.6,-2.1,-1.3,0.3,-2.7,-1.0, -3.3,0.9,-1.0,1.9,-0.8,-0.4];
const site3LrmResidMid = [2.0,0.4,-0.4,-0.3,-0.6,-0.2,0.3,0.2,-0.2,1.4, 0.7,0.3,1.0,1.5,1.8,2.3,2.7,3.0,3.3,2.9, 2.4,3.2,3.7,3.2,2.9,3.1,2.7,2.4,2.9,3.4, 3.2,2.5,2.1,1.9,1.5,1.1,0.7,0.3,-1.5,-2.7, -2.2,-1.9,0.5,-0.3,-3.6,-3.1,-2.2,-1.3,-0.8,0.1, 0.4,0.4,-0.2,-1.8,-2.5,-2.9,-2.5,-1.2,-0.7,-1.8, -2.1,-1.0,-0.4,-1.3,-1.7,-2.1,-0.9,-1.7,-2.0,-0.8, -1.5,-3.2,-2.6,-0.3,-0.8,-3.0,-2.4,0.3,0.0,0.4, 1.4,1.1,0.6,1.2,2.1,2.3,2.7,3.3,3.5,3.2, 2.8,2.2,2.0,2.1,2.7,2.0,2.7,3.0,3.9,4.1, 4.1,3.7,0.5,1.5,3.0,1.2,1.5,0.9,-1.4,-0.7, 0.1,0.3,-0.2,-1.0,-1.3,-1.7,-2.1,-2.6,-3.4,-3.1, -2.1,-4.3,-1.9,-1.5,-4.3,-2.2,-2.6,-1.1,-1.0,-3.4, -1.9,-1.4,-2.6,-2.0,-1.4,-1.7,-0.5,-1.2,-1.8,-2.1, -1.2,-0.1,0.4,0.6,-0.6,-0.9];
const site3HlmResid = [1.2,2.0,3.0,1.4,0.6,-0.1,1.1,0.4,2.1,0.8, -0.6,-1.9,0.3,0.7,0.2,0.9,0.4,0.6,0.1,0.8, 0.5,0.9,0.2,-0.3,0.4,-1.0,-0.5,-0.4,-0.9,-1.7, -1.2,-0.8,-1.4,-1.1,-1.7,-1.5,-2.0,-1.6,-2.3,-1.8, -1.4,-2.1,-1.6,-1.2,-1.8,-1.3,-1.5,-1.0,-1.4,-0.8, -1.1,-0.6,-0.9,-0.4,-1.2,-0.5,-0.8,-0.3,-0.7,-0.4, -0.9,-0.2,-0.6,0.3,-0.5,-0.1,-0.8,0.2,-0.4,-0.9, -1.6,0.5,-1.2,1.0,-1.9,-0.3,-1.4,0.4,-2.4,-0.6, -0.9,-0.5,-0.8,-0.3,-0.6,-0.2,-0.5,-0.4,-0.1,-0.3, 0.2,0.0,0.4,0.6,0.3,0.8,0.5,0.9,0.7,1.0, 0.8,1.2,1.0,1.5,1.2,1.9,1.6,2.3,2.6,2.0, 1.8,1.5,1.9,1.6,1.3,1.7,1.4,1.1,1.5,1.2, 0.9,1.3,0.8,1.2,1.0,0.7,1.1,0.9,1.3,0.8, 0.9,1.4,0.6,1.0,0.5,0.8,1.2,0.7,1.1,0.6, 0.9,0.3,0.7,0.4,0.8,2.8];
const site3HlmResidMid = [1.6,2.5,2.2,1.0,0.2,0.5,0.7,1.3,1.5,0.1, -1.3,-0.8,0.5,0.4,0.6,0.7,0.5,0.4,0.5,0.7, 0.7,0.6,-0.1,0.0,-0.3,-0.8,-0.4,-0.7,-1.3,-1.4, -1.0,-1.1,-1.3,-1.4,-1.6,-1.7,-1.8,-1.9,-2.0,-1.6, -1.8,-1.9,-1.4,-1.5,-1.5,-1.4,-1.3,-1.2,-1.1,-1.0, -0.9,-0.8,-0.7,-0.8,-0.9,-0.7,-0.6,-0.5,-0.6,-0.6, -0.6,-0.4,-0.2,-0.1,-0.3,-0.5,-0.3,-0.1,-0.7,-1.2, -0.6,-0.3,-0.1,-0.5,-1.1,-0.8,-0.5,-1.0,-1.5,-0.8, -0.7,-0.7,-0.6,-0.5,-0.4,-0.4,-0.5,-0.3,-0.2,-0.1, 0.1,0.2,0.5,0.4,0.6,0.6,0.7,0.8,0.9,0.9, 1.0,1.1,1.3,1.4,1.6,1.8,2.0,2.4,2.3,1.9, 1.6,1.7,1.7,1.5,1.5,1.6,1.3,1.3,1.4,1.0, 1.1,1.0,1.0,1.1,0.8,0.9,1.0,1.1,1.0,0.9, 1.2,1.0,0.8,0.7,0.6,1.0,0.9,0.9,0.8,0.7, 0.6,0.5,0.5,0.6,1.5,2.0];

// ---------------------------------------------------------------------------
// Page layout: one row per site, three panels per row.
// ---------------------------------------------------------------------------
const sites = [
  { scatter: site1Scatter, loop: site1HlmLoop, fit: site1LrmFit, obs: [site1ObsWater, site1ObsWaterMid],
    lrm: [site1LrmWater, site1LrmWaterMid], hlm: site1HlmSeries,
    rLrm: [site1LrmResid, site1LrmResidMid], rHlm: [site1HlmResid, site1HlmResidMid], residTicks: residTicksA },
  { scatter: site2Scatter, loop: site2HlmLoop, fit: site2LrmFit, obs: [site2ObsWater, site2ObsWaterMid],
    lrm: [site2LrmWater, site2LrmWaterMid], hlm: site2HlmSeries,
    rLrm: [site2LrmResid, site2LrmResidMid], rHlm: [site2HlmResid, site2HlmResidMid], residTicks: residTicksA },
  { scatter: site3Scatter, loop: site3HlmLoop, fit: site3LrmFit, obs: [site3ObsWater, site3ObsWaterMid],
    lrm: [site3LrmWater, site3LrmWaterMid], hlm: site3HlmSeries,
    rLrm: [site3LrmResid, site3LrmResidMid], rHlm: [site3HlmResid, site3HlmResidMid], residTicks: residTicksB }
];

const layout = [
  { a: {l: 59, t: 18, r: 359, b: 412}, b: {l: 454, t: 18, r: 753, b: 412}, c: {l: 848, t: 18, r: 1147, b: 412},
    legA: {x: 93, y: 33, w: 98, h: 69}, legB: {x: 608, y: 33, w: 135, h: 69}, legC: {x: 1042, y: 27, w: 98, h: 47} },
  { a: {l: 52, t: 538, r: 353, b: 932}, b: {l: 448, t: 538, r: 749, b: 932}, c: {l: 844, t: 538, r: 1146, b: 932},
    legA: {x: 94, y: 554, w: 99, h: 69}, legB: {x: 607, y: 547, w: 136, h: 69}, legC: {x: 1041, y: 547, w: 98, h: 47} },
  { a: {l: 53, t: 1058, r: 357, b: 1453}, b: {l: 452, t: 1058, r: 758, b: 1453}, c: {l: 853, t: 1058, r: 1157, b: 1453},
    legA: {x: 253, y: 1067, w: 99, h: 69}, legB: {x: 615, y: 1067, w: 135, h: 69}, legC: {x: 1052, y: 1067, w: 98, h: 48} }
];

const DAY_MAX = 800;
const COLORS = { data: "#bb6d42", hlmBlue: "#0000ff", lrmBlack: "#000000", red: "#ff0000", marker: "#00008b" };
const FONT = '"Liberation Sans", Arial, Helvetica, sans-serif';
const svg = d3.select("#chart");
let clipCount = 0;

// pair a regular series with its half-step companion as [day, value] rows in time order
function toDaySeries(pair, step) {
  const [main, mid] = pair, out = [];
  main.forEach((v, i) => {
    out.push([i * step, v]);
    if (i < mid.length) out.push([i * step + step / 2, mid[i]]);
  });
  return out;
}

function makeClip(box) {
  const id = "clip" + (clipCount++);
  svg.append("clipPath").attr("id", id).append("rect")
    .attr("x", box.l).attr("y", box.t).attr("width", box.r - box.l).attr("height", box.b - box.t);
  return id;
}

// white plot area plus dotted grid lines at the tick positions
function drawGrid(box, x, y, xTicks, yTicks) {
  const g = svg.append("g");
  g.append("rect").attr("x", box.l).attr("y", box.t)
    .attr("width", box.r - box.l).attr("height", box.b - box.t).attr("fill", "#fff");
  const grid = g.append("g").attr("stroke", "#222").attr("stroke-width", 0.9)
    .attr("stroke-dasharray", "1,3").attr("fill", "none");
  xTicks.forEach(v => {
    const px = x(v);
    if (px > box.l + 1 && px < box.r - 1)
      grid.append("line").attr("x1", px).attr("x2", px).attr("y1", box.t).attr("y2", box.b);
  });
  yTicks.forEach(v => {
    const py = y(v);
    if (py > box.t + 1 && py < box.b - 1)
      grid.append("line").attr("x1", box.l).attr("x2", box.r).attr("y1", py).attr("y2", py);
  });
}

// box, inward ticks on all four sides, tick labels and axis titles
function drawAxes(box, x, y, xTicks, xLabels, yTicks, xTitle, yTitle, yTitleOffset) {
  const g = svg.append("g");
  const xFmt = d => xLabels[xTicks.indexOf(d)];
  const yFmt = d => String(d);
  g.append("g").attr("transform", `translate(0,${box.b})`)
    .call(d3.axisBottom(x).tickValues(xTicks).tickFormat(xFmt).tickSizeInner(-4).tickSizeOuter(0).tickPadding(8));
  g.append("g").attr("transform", `translate(0,${box.t})`)
    .call(d3.axisTop(x).tickValues(xTicks).tickFormat("").tickSizeInner(-4).tickSizeOuter(0));
  g.append("g").attr("transform", `translate(${box.l},0)`)
    .call(d3.axisLeft(y).tickValues(yTicks).tickFormat(yFmt).tickSizeInner(-4).tickSizeOuter(0).tickPadding(4));
  g.append("g").attr("transform", `translate(${box.r},0)`)
    .call(d3.axisRight(y).tickValues(yTicks).tickFormat("").tickSizeInner(-4).tickSizeOuter(0));
  g.selectAll(".domain").remove();
  g.selectAll(".tick line").attr("stroke", "#000").attr("stroke-width", 1);
  g.selectAll("text").attr("font-size", 14).attr("font-family", FONT).attr("fill", "#000");
  g.append("rect").attr("x", box.l).attr("y", box.t)
    .attr("width", box.r - box.l).attr("height", box.b - box.t)
    .attr("fill", "none").attr("stroke", "#000").attr("stroke-width", 1);
  g.append("text").attr("x", (box.l + box.r) / 2).attr("y", box.b + 38)
    .attr("text-anchor", "middle").attr("font-size", 14.5).attr("font-family", FONT).text(xTitle);
  const cy = (box.t + box.b) / 2, tx = box.l - yTitleOffset;
  g.append("text").attr("transform", `translate(${tx},${cy}) rotate(-90)`)
    .attr("text-anchor", "middle").attr("font-size", 14.5).attr("font-family", FONT).text(yTitle);
}

const plusPath = s => `M${-s},0H${s}M0,${-s}V${s}`;

// legend box with sample glyphs
function drawLegend(lg, entries) {
  const g = svg.append("g");
  g.append("rect").attr("x", lg.x).attr("y", lg.y).attr("width", lg.w).attr("height", lg.h)
    .attr("fill", "#fff").attr("stroke", "#000").attr("stroke-width", 1);
  entries.forEach((e, i) => {
    const cy = lg.y + 13.5 + 21.3 * i;
    const x0 = lg.x + 9, x1 = lg.x + 55, xm = (x0 + x1) / 2;
    if (e.kind === "line" || e.kind === "lineMark") {
      g.append("line").attr("x1", x0).attr("x2", x1).attr("y1", cy).attr("y2", cy)
        .attr("stroke", e.color).attr("stroke-width", e.width);
      if (e.kind === "lineMark")
        g.append("path").attr("d", plusPath(1.3)).attr("transform", `translate(${xm},${cy})`)
          .attr("stroke", e.markColor || e.color).attr("stroke-width", 1);
    } else if (e.kind === "plus") {
      g.append("path").attr("d", plusPath(1.8)).attr("transform", `translate(${xm},${cy})`)
        .attr("stroke", e.color).attr("stroke-width", 1.4);
    } else if (e.kind === "circle") {
      g.append("circle").attr("cx", xm).attr("cy", cy).attr("r", 2.8)
        .attr("fill", "none").attr("stroke", e.color).attr("stroke-width", 1);
    } else if (e.kind === "square") {
      g.append("rect").attr("x", xm - 1.5).attr("y", cy - 1.5).attr("width", 3).attr("height", 3)
        .attr("fill", e.color);
    }
    g.append("text").attr("x", lg.x + 61).attr("y", cy).attr("dy", "0.36em")
      .attr("font-size", 14.5).attr("font-family", FONT).text(e.label);
  });
}

sites.forEach((site, k) => {
  const L = layout[k];

  // ---------- panel 1: water vs air temperature ----------
  {
    const box = L.a;
    const x = d3.scaleLinear().domain([0, 40]).range([box.l, box.r]);
    const y = d3.scaleLinear().domain([0, 40]).range([box.b, box.t]);
    drawGrid(box, x, y, airTicks, tempTicks);
    const clip = makeClip(box);
    const g = svg.append("g").attr("clip-path", `url(#${clip})`);
    const straight = d3.line().x(d => x(d[0])).y(d => y(d[1]));
    g.append("g").selectAll("path").data(site.scatter).join("path")
      .attr("d", plusPath(1.8))
      .attr("transform", d => `translate(${x(d[0])},${y(d[1])})`)
      .attr("stroke", COLORS.data).attr("stroke-width", 1.4).attr("fill", "none");
    g.append("path").datum(site.loop)
      .attr("d", d3.line().x(d => x(d[0])).y(d => y(d[1])).curve(d3.curveCatmullRom.alpha(0.5)))
      .attr("fill", "none").attr("stroke", COLORS.hlmBlue).attr("stroke-width", 2.2);
    g.append("path").datum(site.fit).attr("d", straight)
      .attr("fill", "none").attr("stroke", COLORS.lrmBlack).attr("stroke-width", 3.2);
    g.append("path").datum(identityLine).attr("d", straight)
      .attr("fill", "none").attr("stroke", COLORS.red).attr("stroke-width", 2);
    drawAxes(box, x, y, airTicks, airTicks.map(String), tempTicks,
      "Air Temperature", "Surface Water Temperature", 31);
    drawLegend(L.legA, [
      { kind: "plus", color: COLORS.data, label: "Data" },
      { kind: "lineMark", color: COLORS.hlmBlue, width: 1.5, label: "HLM" },
      { kind: "lineMark", color: COLORS.lrmBlack, width: 3, markColor: "#444", label: "LRM" }
    ]);
  }

  // ---------- panel 2: water temperature time series ----------
  {
    const box = L.b;
    const x = d3.scaleLinear().domain([0, DAY_MAX]).range([box.l, box.r]);
    const y = d3.scaleLinear().domain([0, 40]).range([box.b, box.t]);
    drawGrid(box, x, y, dateTickDays, tempTicks);
    const clip = makeClip(box);
    const g = svg.append("g").attr("clip-path", `url(#${clip})`);
    g.append("g").selectAll("circle").data(toDaySeries(site.obs, obsStepDays)).join("circle")
      .attr("cx", d => x(d[0])).attr("cy", d => y(d[1])).attr("r", 2.8)
      .attr("fill", "none").attr("stroke", COLORS.red).attr("stroke-width", 1);
    g.append("g").selectAll("rect").data(toDaySeries(site.lrm, lrmStepDays)).join("rect")
      .attr("x", d => x(d[0]) - 1.5).attr("y", d => y(d[1]) - 1.5)
      .attr("width", 3).attr("height", 3).attr("fill", COLORS.lrmBlack);
    g.append("path").datum(site.hlm)
      .attr("d", d3.line().x(d => x(d[0])).y(d => y(d[1])))
      .attr("fill", "none").attr("stroke", COLORS.hlmBlue).attr("stroke-width", 5)
      .attr("stroke-linejoin", "round").attr("stroke-linecap", "round");
    drawAxes(box, x, y, dateTickDays, dateTickLabels, tempTicks,
      "Data(YYYY-MM-DD)", "Surface Water Temperature (C)", 33);
    drawLegend(L.legB, [
      { kind: "circle", color: COLORS.red, label: "Obs. Data" },
      { kind: "square", color: COLORS.lrmBlack, label: "LRM" },
      { kind: "line", color: COLORS.hlmBlue, width: 5, label: "HLM" }
    ]);
  }

  // ---------- panel 3: residuals ----------
  {
    const box = L.c;
    const ticks = site.residTicks;
    const x = d3.scaleLinear().domain([0, DAY_MAX]).range([box.l, box.r]);
    const y = d3.scaleLinear().domain([ticks[0], ticks[ticks.length - 1]]).range([box.b, box.t]);
    drawGrid(box, x, y, dateTickDays, ticks);
    const clip = makeClip(box);
    const g = svg.append("g").attr("clip-path", `url(#${clip})`);
    const rLine = d3.line().x(d => x(d[0])).y(d => y(d[1]));
    const lrmRes = toDaySeries(site.rLrm, residStepDays);
    const hlmRes = toDaySeries(site.rHlm, residStepDays);
    g.append("path").datum(lrmRes).attr("d", rLine)
      .attr("fill", "none").attr("stroke", COLORS.hlmBlue).attr("stroke-width", 1.3);
    g.append("g").selectAll("path").data(lrmRes).join("path")
      .attr("d", plusPath(1.3))
      .attr("transform", d => `translate(${x(d[0])},${y(d[1])})`)
      .attr("stroke", COLORS.marker).attr("stroke-width", 1);
    g.append("path").datum(hlmRes).attr("d", rLine)
      .attr("fill", "none").attr("stroke", COLORS.red).attr("stroke-width", 1.2);
    drawAxes(box, x, y, dateTickDays, dateTickLabels, ticks,
      "Data(YYYY-MM-DD)", "Residuals", 29.5);
    drawLegend(L.legC, [
      { kind: "lineMark", color: COLORS.hlmBlue, width: 1.4, markColor: COLORS.marker, label: "LRM" },
      { kind: "line", color: COLORS.red, width: 1.4, label: "HLM" }
    ]);
  }
});
</script>
</body>
</html>
